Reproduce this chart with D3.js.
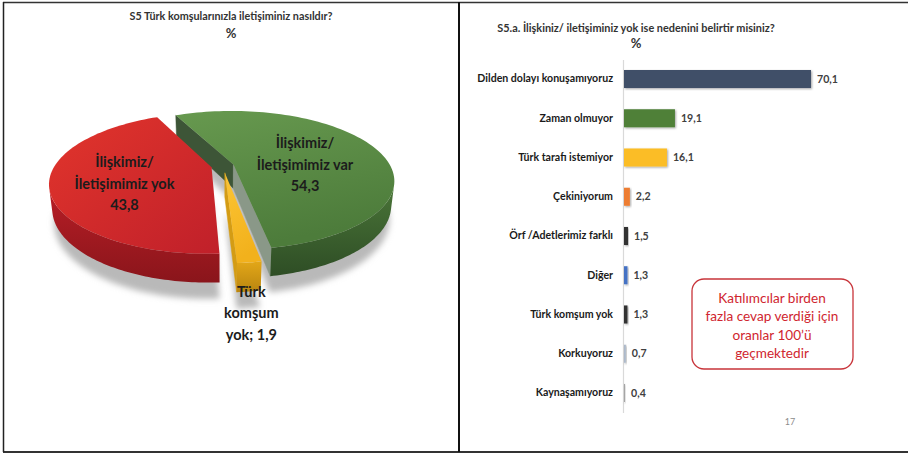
<!DOCTYPE html>
<html>
<head>
<meta charset="utf-8">
<script src="https://cdn.jsdelivr.net/npm/d3@7"></script>
<style>
  body { margin: 0; background: #fff; }
  svg { display: block; font-family: Lato, "Open Sans", sans-serif; }
</style>
</head>
<body>
<div id="chart"></div>
<script>
// ---- data: left pie (S5) ----
var pieLabels = ["İlişkimiz/\nİletişimimiz var\n54,3", "Türk\nkomşum\nyok; 1,9", "İlişkimiz/\nİletişimimiz yok\n43,8"];
var pieValues = [54.3, 1.9, 43.8];
var pieColors = ["green", "yellow", "red"];

// ---- data: right bars (S5.a) ----
var reasons = ["Dilden dolayı konuşamıyoruz", "Zaman olmuyor", "Türk tarafı istemiyor", "Çekiniyorum",
  "Örf /Adetlerimiz farklı", "Diğer", "Türk komşum yok", "Korkuyoruz", "Kaynaşamıyoruz"];
var reasonValues = [70.1, 19.1, 16.1, 2.2, 1.5, 1.3, 1.3, 0.7, 0.4];
var reasonColors = ["#3f5067", "#4f8039", "#fbbd26", "#ed7d31", "#333333", "#4472c4", "#333333", "#adb9ca", "#a5a5a5"];

var W = 908, H = 454;
var svg = d3.select("#chart").append("svg").attr("width", W).attr("height", H);
var defs = svg.append("defs");

// panel frames
svg.append("line").attr("x1", 3).attr("x2", W).attr("y1", 2.5).attr("y2", 2.5).attr("stroke", "#333").attr("stroke-width", 1.5);
svg.append("line").attr("x1", 3).attr("x2", W).attr("y1", 452).attr("y2", 452).attr("stroke", "#333").attr("stroke-width", 2);
svg.append("line").attr("x1", 3.5).attr("x2", 3.5).attr("y1", 2).attr("y2", 452).attr("stroke", "#222").attr("stroke-width", 1.5);
svg.append("line").attr("x1", 459).attr("x2", 459).attr("y1", 2).attr("y2", 452).attr("stroke", "#111").attr("stroke-width", 2);

// ************** left: 3D exploded pie *****************
svg.append("text").attr("x", 231).attr("y", 16).attr("dy", "0.35em").attr("text-anchor", "middle")
  .style("font-size", "10.8px").style("font-weight", "bold").attr("fill", "#333")
  .text("S5 Türk komşularınızla iletişiminiz nasıldır?");
svg.append("text").attr("x", 231).attr("y", 33).attr("dy", "0.35em").attr("text-anchor", "middle")
  .style("font-size", "13px").style("font-weight", "bold").attr("fill", "#333").text("%");

// simple perspective camera
var rad = Math.PI / 180;
var elev = 25 * rad, camD = 4, focal = 628, thick = 0.17;
var pcx = 223, pcy = 166;
var cam = [0, camD * Math.sin(elev), camD * Math.cos(elev)];

function project(x, y, z) {
  var v = z * Math.sin(elev) - y * Math.cos(elev);
  var w = camD - z * Math.cos(elev) - y * Math.sin(elev);
  return [pcx + focal * x / w, pcy + focal * v / w];
}
function pt(theta, y, off, r) {
  if (r === undefined) r = 1;
  return project(off[0] + r * Math.sin(theta), y, off[2] - r * Math.cos(theta));
}
function facing(n, p) {
  return n[0] * (cam[0] - p[0]) + n[1] * (cam[1] - p[1]) + n[2] * (cam[2] - p[2]) > 0;
}
function arcPts(a0, a1, y, off) {
  var n = Math.max(4, Math.ceil((a1 - a0) / (2 * rad)));
  var out = [];
  for (var i = 0; i <= n; i++) out.push(pt(a0 + (a1 - a0) * i / n, y, off));
  return out;
}
var line = d3.line();

var pie = d3.pie().sort(null)
  .startAngle(-25.5 * rad).endAngle(334.5 * rad)
  .value(function(d) { return d; });
var slices = pie(pieValues);
var explode = [0.07, 0.1, 0.075];

var palette = {
  green:  {top: ["#67994f", "#4d7c3b"], wall: ["#4a7538", "#2e4d25"], side0: "#3d5537", side1: "#8a9888"},
  yellow: {top: ["#fcc535", "#f2b11c"], wall: ["#e3a718", "#b98510"], side0: "#d49c14", side1: "#d49c14"},
  red:    {top: ["#e2352c", "#c0202a"], wall: ["#b81e26", "#8a151b"], side0: "#951a1f", side1: "#a81c22"}
};
Object.keys(palette).forEach(function(k) {
  var g = defs.append("linearGradient").attr("id", "top-" + k).attr("x1", 0).attr("y1", 0).attr("x2", k === "red" ? 1 : 0.3).attr("y2", 1);
  g.append("stop").attr("offset", "0%").attr("stop-color", palette[k].top[0]);
  g.append("stop").attr("offset", "100%").attr("stop-color", palette[k].top[1]);
  var gw = defs.append("linearGradient").attr("id", "wall-" + k).attr("x1", 0).attr("y1", 0).attr("x2", 0).attr("y2", 1);
  gw.append("stop").attr("offset", "0%").attr("stop-color", palette[k].wall[0]);
  gw.append("stop").attr("offset", "100%").attr("stop-color", palette[k].wall[1]);
});
defs.append("filter").attr("id", "soft").attr("x", "-20%").attr("y", "-20%").attr("width", "140%").attr("height", "140%")
  .append("feGaussianBlur").attr("stdDeviation", 3);

slices.forEach(function(s, i) {
  var mid = (s.startAngle + s.endAngle) / 2;
  s.off = [explode[i] * Math.sin(mid), 0, -explode[i] * Math.cos(mid)];
  s.mid = mid;
  s.key = pieColors[i];
});

var pieG = svg.append("g");

// soft shadow under the pie
slices.forEach(function(s) {
  var sh = [project(s.off[0], -thick - 0.1, s.off[2])].concat(arcPts(s.startAngle, s.endAngle, -thick - 0.1, s.off));
  pieG.append("path").attr("d", line(sh) + "Z").attr("fill", "#b9b9b9").attr("filter", "url(#soft)");
});

// paint far slices first
var order = slices.slice().sort(function(a, b) { return -Math.cos(a.mid) - -Math.cos(b.mid); });
order.forEach(function(s) {
  var p = palette[s.key], off = s.off;
  var g = pieG.append("g");
  var c0 = project(off[0], 0, off[2]), c1 = project(off[0], -thick, off[2]);

  // radial walls
  [[s.startAngle, -1, p.side0], [s.endAngle, 1, p.side1]].forEach(function(wd) {
    var a = wd[0], nAng = a + wd[1] * Math.PI / 2;
    var n = [Math.sin(nAng), 0, -Math.cos(nAng)];
    var m = [off[0] + 0.5 * Math.sin(a), -thick / 2, off[2] - 0.5 * Math.cos(a)];
    if (!facing(n, m)) return;
    var q = [c0, pt(a, 0, off), pt(a, -thick, off), c1];
    g.append("path").attr("d", line(q) + "Z").attr("fill", wd[2]).attr("stroke", wd[2]).attr("stroke-width", 0.5);
  });

  // outer curved wall, visible runs only
  var steps = Math.max(8, Math.ceil((s.endAngle - s.startAngle) / rad));
  var run = [];
  function flush() {
    if (run.length > 1) {
      var topPts = run.map(function(t) { return pt(t, 0, off); });
      var botPts = run.map(function(t) { return pt(t, -thick, off); }).reverse();
      g.append("path").attr("d", line(topPts.concat(botPts)) + "Z").attr("fill", "url(#wall-" + s.key + ")");
    }
    run = [];
  }
  for (var k = 0; k <= steps; k++) {
    var t = s.startAngle + (s.endAngle - s.startAngle) * k / steps;
    var n = [Math.sin(t), 0, -Math.cos(t)];
    var m = [off[0] + Math.sin(t), -thick / 2, off[2] - Math.cos(t)];
    if (facing(n, m)) run.push(t); else flush();
  }
  flush();

  // top face
  var top = [c0].concat(arcPts(s.startAngle, s.endAngle, 0, off));
  g.append("path").attr("d", line(top) + "Z").attr("fill", "url(#top-" + s.key + ")");
});

// pie labels
var labelSpot = {green: {r: 0.5, dx: 0, dy: 10}, yellow: {r: 1.0, dx: 2, dy: 51}, red: {r: 0.55, dx: 0, dy: 7}};
slices.forEach(function(s, i) {
  var ls = labelSpot[s.key];
  var c = pt(s.mid, 0, s.off, ls.r);
  var lines = pieLabels[i].split("\n");
  var t = svg.append("text").attr("text-anchor", "middle")
    .style("font-size", "14.5px").style("font-weight", "bold").attr("fill", "#1c1c1c");
  lines.forEach(function(l, j) {
    t.append("tspan").attr("x", c[0] + ls.dx)
      .attr("y", c[1] + ls.dy + (j - 1) * 21.5).attr("dy", "0.35em").text(l);
  });
});

// ************** right: horizontal bars *****************
svg.append("text").attr("x", 636).attr("y", 28).attr("dy", "0.35em").attr("text-anchor", "middle")
  .style("font-size", "10.9px").style("font-weight", "bold").attr("fill", "#333")
  .text("S5.a. İlişkiniz/ iletişiminiz yok ise nedenini belirtir misiniz?");
svg.append("text").attr("x", 636).attr("y", 43).attr("dy", "0.35em").attr("text-anchor", "middle")
  .style("font-size", "13px").style("font-weight", "bold").attr("fill", "#333").text("%");

var y = d3.scaleBand().domain(reasons).range([59.4, 412.6]).paddingInner(0.54).paddingOuter(0.27);
var x = d3.scaleLinear().domain([0, 70.1]).range([624, 811]);

defs.append("filter").attr("id", "barShadow").attr("x", "-10%").attr("y", "-20%").attr("width", "130%").attr("height", "160%")
  .append("feDropShadow").attr("dx", 1).attr("dy", 1).attr("stdDeviation", 0.8).attr("flood-color", "#000").attr("flood-opacity", 0.35);

var yAxis = svg.append("g").attr("transform", "translate(623,0)")
  .call(d3.axisLeft(y).tickSize(0).tickPadding(10));
yAxis.select(".domain").attr("stroke", "#d9d9d9").attr("stroke-width", 1.2);
yAxis.selectAll("text").style("font-family", "Lato, 'Open Sans', sans-serif")
  .style("font-size", "10.6px").style("font-weight", "bold").attr("fill", "#1a1a1a");

svg.append("g").selectAll("rect").data(reasonValues).enter().append("rect")
  .attr("x", x(0))
  .attr("y", function(d, i) { return y(reasons[i]); })
  .attr("width", function(d) { return x(d) - x(0); })
  .attr("height", y.bandwidth())
  .attr("fill", function(d, i) { return reasonColors[i]; })
  .attr("filter", "url(#barShadow)");

svg.append("g").selectAll("text").data(reasonValues).enter().append("text")
  .attr("x", function(d) { return x(d) + 6; })
  .attr("y", function(d, i) { return y(reasons[i]) + y.bandwidth() / 2; })
  .attr("dy", "0.35em")
  .style("font-size", "10.6px").style("font-weight", "bold").attr("fill", "#404040")
  .text(function(d) { return d3.format(".1f")(d).replace(".", ","); });

// note box
svg.append("rect").attr("x", 692).attr("y", 279).attr("width", 161).attr("height", 90).attr("rx", 12)
  .attr("fill", "#fff").attr("stroke", "#c8343a").attr("stroke-width", 1.3);
var note = ["Katılımcılar birden", "fazla cevap verdiği için", "oranlar 100’ü", "geçmektedir"];
var nt = svg.append("text").attr("text-anchor", "middle").style("font-size", "13.6px").attr("fill", "#d0262f");
note.forEach(function(l, j) {
  nt.append("tspan").attr("x", 772).attr("y", 298 + j * 18.4).attr("dy", "0.35em").text(l);
});

svg.append("text").attr("x", 790).attr("y", 422).attr("dy", "0.35em").attr("text-anchor", "middle")
  .style("font-size", "9px").attr("fill", "#8c8c8c").text("17");
</script>
</body>
</html>
